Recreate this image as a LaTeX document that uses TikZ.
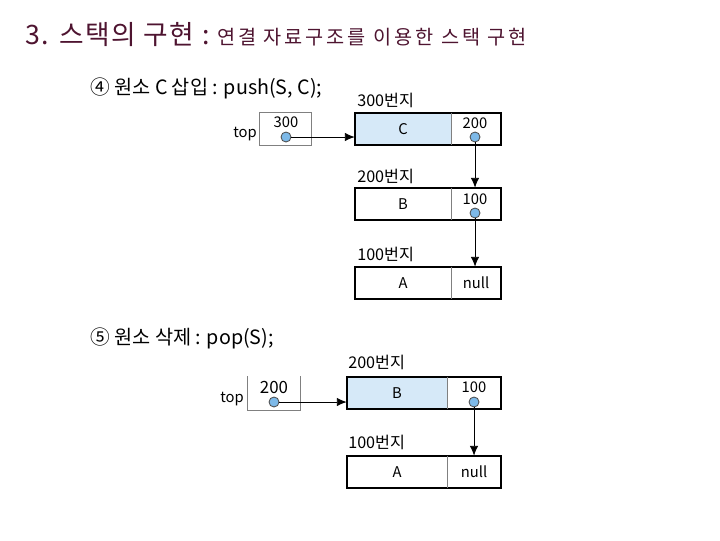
\documentclass[tikz,border=0pt]{standalone}
\usepackage{fontspec}
\setmainfont{Noto Sans CJK KR}
\newfontfamily\titlefont[LetterSpace=6]{Noto Sans CJK KR}
\newfontfamily\subtitlefont[LetterSpace=15]{Noto Sans CJK KR}
\usetikzlibrary{positioning, arrows.meta}
\definecolor{titlered}{RGB}{78,20,48}
\definecolor{cellblue}{RGB}{214,233,248}
\definecolor{dotblue}{RGB}{125,185,232}

\begin{document}
\begin{tikzpicture}[x=0.025cm, y=-0.025cm,
		datafield/.style={inner sep=0pt, minimum width=2.4cm, minimum height=0.8cm, font=\fontsize{10.5}{12}\selectfont},
		linkfield/.style={inner sep=0pt, minimum width=1.225cm, minimum height=0.8cm},
		frame/.style={draw=black, line width=1.3pt},
		split/.style={draw=gray, line width=0.5pt},
		topbox/.style={draw=gray, line width=0.6pt, inner sep=0pt, minimum width=1.3cm, minimum height=0.825cm},
		addr/.style={anchor=base west, inner sep=0pt, font=\fontsize{11.5}{13}\selectfont},
		num/.style={inner sep=0pt, font=\fontsize{10.5}{12}\selectfont},
		dot/.style={circle, draw=black!70, fill=dotblue, line width=0.6pt, minimum size=0.25cm, inner sep=0pt},
		ptr/.style={-{Latex[length=7pt, width=6pt]}, line width=0.6pt}
		]
		\useasboundingbox (0,0) rectangle (720,540);

		% title
		\node [anchor=base west, inner sep=0pt, text=titlered](title) at (25,44)
			{\titlefont\fontsize{19}{21}\selectfont 3. 스택의 구현 :\ {\subtitlefont\fontsize{14}{16}\selectfont 연결 자료구조를 이용한 스택 구현}};

		% push
		\node [anchor=base west, inner sep=0pt, font=\fontsize{14}{16}\selectfont](step4) at (90,94) {④ 원소 C 삽입 : push(S, C);};

		\node [topbox](top1) at (285,129) {};
		\node [num](top1v) at (286,122) {300};
		\node [dot](t1) at (286,137) {};
		\node [num, anchor=east](top1l) at (257,134) {top};

		\node [datafield, fill=cellblue](c) at (403,129) {C};
		\node [linkfield](cl) [right=0pt of c] {};
		\node [num](cv) at (475,123) {200};
		\node [dot](cd) at (475,137) {};
		\node [addr](c300) at (357,106) {300번지};

		\node [datafield](b) at (403,204) {B};
		\node [linkfield](bl) [right=0pt of b] {};
		\node [num](bv) at (475,199) {100};
		\node [dot](bd) at (475,213) {};
		\node [addr](b200) at (357,182) {200번지};

		\node [datafield](a) at (403,283) {A};
		\node [linkfield, font=\fontsize{10.5}{12}\selectfont](al) [right=0pt of a] {null};
		\node [addr](a100) at (357,260) {100번지};

		\foreach \n/\m in {c/cl, b/bl, a/al}{
			\draw[frame] (\n.north west) rectangle (\m.south east);
			\draw[split] (\n.north east) -- (\n.south east);
		}

		\draw[ptr] (t1) -- (t1 -| c.west);
		\draw[ptr] (cd) -- (cd |- b.north);
		\draw[ptr] (bd) -- (bd |- a.north);

		% pop
		\node [anchor=base west, inner sep=0pt, font=\fontsize{14}{16}\selectfont](step5) at (90,344) {⑤ 원소 삭제 : pop(S);};

		\node [topbox, draw=none](top2) at (274,393) {};
		\draw[split, line width=0.6pt] (top2.north west) -- (top2.south west) -- (top2.south east) -- (top2.north east);
		\node [num, font=\fontsize{12}{14}\selectfont](top2v) at (274,387) {200};
		\node [dot](t2) at (274,402) {};
		\node [num, anchor=east](top2l) at (244,399) {top};

		\node [datafield, fill=cellblue, minimum width=2.5cm](b2) at (397,393) {B};
		\node [linkfield, minimum width=1.325cm](b2l) [right=0pt of b2] {};
		\node [num](b2v) at (474,387) {100};
		\node [dot](b2d) at (474,402) {};
		\node [addr](b2200) at (348,368) {200번지};

		\node [datafield, minimum width=2.5cm](a2) at (397,472) {A};
		\node [linkfield, minimum width=1.325cm, font=\fontsize{10.5}{12}\selectfont](a2l) [right=0pt of a2] {null};
		\node [addr](a2100) at (348,448) {100번지};

		\foreach \n/\m in {b2/b2l, a2/a2l}{
			\draw[frame] (\n.north west) rectangle (\m.south east);
			\draw[split] (\n.north east) -- (\n.south east);
		}

		\draw[ptr] (t2) -- (t2 -| b2.west);
		\draw[ptr] (b2d) -- (b2d |- a2.north);
\end{tikzpicture}
\end{document}
